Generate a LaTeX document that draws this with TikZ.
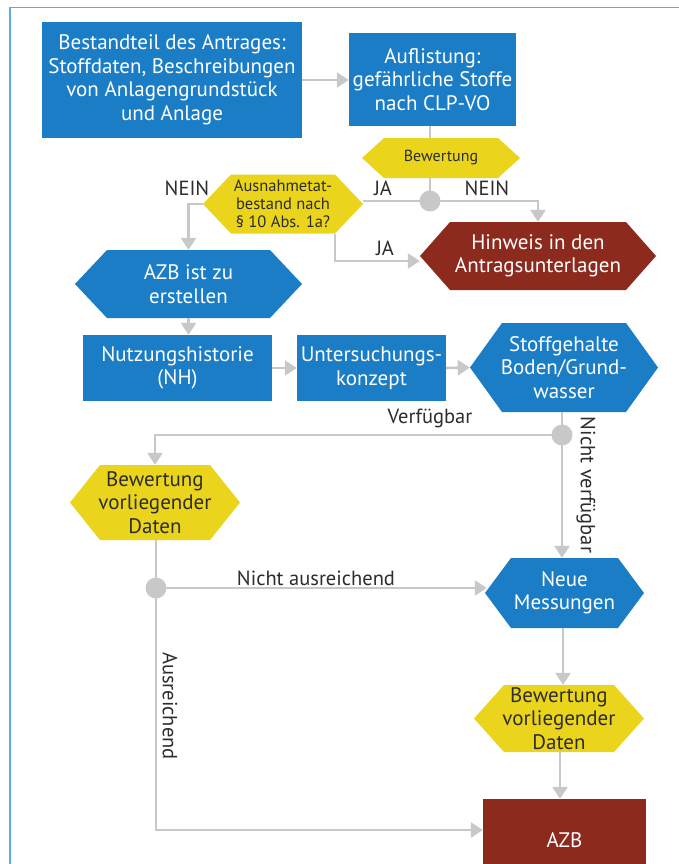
\documentclass[tikz,border=0pt]{standalone}
\usepackage{fontspec}
\setmainfont{PT Sans}
\usetikzlibrary{arrows.meta}
\definecolor{boxblue}{RGB}{27,125,197}
\definecolor{boxyellow}{RGB}{234,212,28}
\definecolor{boxred}{RGB}{140,42,30}
\definecolor{linegray}{RGB}{200,200,200}
\definecolor{framecol}{RGB}{95,170,225}
\definecolor{labcol}{RGB}{45,45,45}
\newcommand\hexa[9]{%
  \fill[#7] (#2-#4/2,#3) -- (#2-#4/2+#6,#3-#5/2) -- (#2+#4/2-#6,#3-#5/2) -- (#2+#4/2,#3)
     -- (#2+#4/2-#6,#3+#5/2) -- (#2-#4/2+#6,#3+#5/2) -- cycle;
  \node[hexlabel, #9] (#1) at (#2,#3) [minimum width=#4pt, minimum height=#5pt] {#8};}
\tikzset{
  bigtxt/.style={font=\fontsize{21}{23.5}\selectfont},
  hexlabel/.style={inner sep=0pt, align=center, text=white, bigtxt},
  bluebox/.style={fill=boxblue, inner sep=0pt, align=center, text=white, bigtxt},
  redbox/.style={fill=boxred, inner sep=0pt, align=center, text=white, bigtxt},
  ln/.style={draw=linegray, line width=2.6pt},
  arr/.style={ln, -{Triangle[width=15pt,length=12pt]}, color=linegray},
  dot/.style={circle, fill=linegray, minimum size=21pt, inner sep=0pt},
  lab/.style={text=labcol, font=\fontsize{20.5}{23}\selectfont, inner sep=0pt},
  yeltxt/.style={text=labcol},
  smalltxt/.style={text=labcol, font=\fontsize{16.5}{18}\selectfont}
}
\begin{document}
\begin{tikzpicture}[x=1pt,y=-1pt]
\useasboundingbox (0,0) rectangle (678,864);
\fill[white] (0,0) rectangle (678,864);
\draw[framecol, line width=1.4pt] (10,870) -- (10,7.5) -- (680,7.5);

% boxes
\node[bluebox, minimum width=260pt, minimum height=116pt] (b1) at (172,80)
  {Bestandteil des Antrages:\\Stoffdaten, Beschreibungen\\von Anlagengrundstück\\und Anlage};
\node[bluebox, minimum width=167pt, minimum height=93pt] (b2) at (432.5,79.5)
  {Auflistung:\\gefährliche Stoffe\\nach CLP-VO};
\hexa{bew1}{441}{158}{158}{40}{22}{boxyellow}{Bewertung}{text=labcol, font=\fontsize{16}{18}\selectfont}
\hexa{aus}{283}{204}{160}{59}{28}{boxyellow}{Ausnahmetat-\\bestand nach\\§ 10 Abs. 1a?}{smalltxt}
\hexa{hin}{538}{256}{236}{68}{30}{boxred}{Hinweis in den\\Antragsunterlagen}{}
\hexa{azbe}{188.5}{284}{227}{68}{32}{boxblue}{AZB ist zu\\erstellen}{}
\node[bluebox, minimum width=189pt, minimum height=66pt] (nh) at (177.5,368) {Nutzungshistorie\\(NH)};
\node[bluebox, minimum width=149pt, minimum height=66pt] (uk) at (371.5,368) {Untersuchungs-\\konzept};
\hexa{sg}{564}{367.5}{188}{89}{32}{boxblue}{Stoffgehalte\\Boden/Grund-\\wasser}{}
\hexa{bvd1}{155}{502.5}{170}{75}{30}{boxyellow}{Bewertung\\vorliegender\\Daten}{yeltxt}
\hexa{nm}{564.5}{593}{159}{70}{26}{boxblue}{Neue\\Messungen}{}
\hexa{bvd2}{559}{718.5}{170}{67}{30}{boxyellow}{Bewertung\\vorliegender\\Daten}{yeltxt}
\node[redbox, minimum width=163pt, minimum height=82pt, text depth=0pt] (azb) at (564.5,840) {AZB};

% junction coordinates
\coordinate (c1) at (430,201);
\coordinate (c2) at (562,435);
\coordinate (c3) at (156,588);

% connectors
\draw[arr] (b1.east |- 0,80) -- (b2.west |- 0,80);
\draw[ln] (c1 |- b2.south) -- (c1 |- bew1.north);
\draw[ln] (c1 |- bew1.south) -- (c1);
\draw[ln] (c1) -- (aus.east |- c1);
\draw[arr] (c1) -| (hin.north);
\draw[arr] (aus.west) -| (azbe.north);
\draw[arr] ([xshift=52pt]aus.south) |- ([yshift=-5pt]hin.west);
\draw[arr] (azbe.south) -- (azbe.south |- nh.north);
\draw[arr] (nh.east) -- (uk.west);
\draw[arr] (uk.east) -- (sg.west);
\draw[ln] (c2 |- sg.south) -- (c2);
\draw[arr] (c2) -| (bvd1.north);
\draw[arr] (c2) -- (c2 |- nm.north);
\draw[ln] (c3 |- bvd1.south) -- (c3);
\draw[arr] (c3) -- ([xshift=2pt]nm.west |- c3);
\draw[arr] (nm.south -| 563,0) -- (563,0 |- bvd2.north);
\draw[arr] (bvd2.south -| 560,0) -- (560,0 |- azb.north);
\draw[arr] (c3) |- ([yshift=10pt]azb.west);

% junction dots
\node[dot] (d1) at (c1) {};
\node[dot] (d2) at (c2) {};
\node[dot] (d3) at (c3) {};

% labels
\node[lab] (l1) at (187,188) {NEIN};
\node[lab] (l2) at (383,188) {JA};
\node[lab] (l3) at (487,188) {NEIN};
\node[lab] (l4) at (385,248) {JA};
\node[lab] (l5) at (430,418) {Verfügbar};
\node[lab, rotate=-90] (l6) at (586,485) {Nicht verfügbar};
\node[lab] (l7) at (316,578) {Nicht ausreichend};
\node[lab, rotate=-90] (l8) at (170,706) {Ausreichend};
\end{tikzpicture}
\end{document}
